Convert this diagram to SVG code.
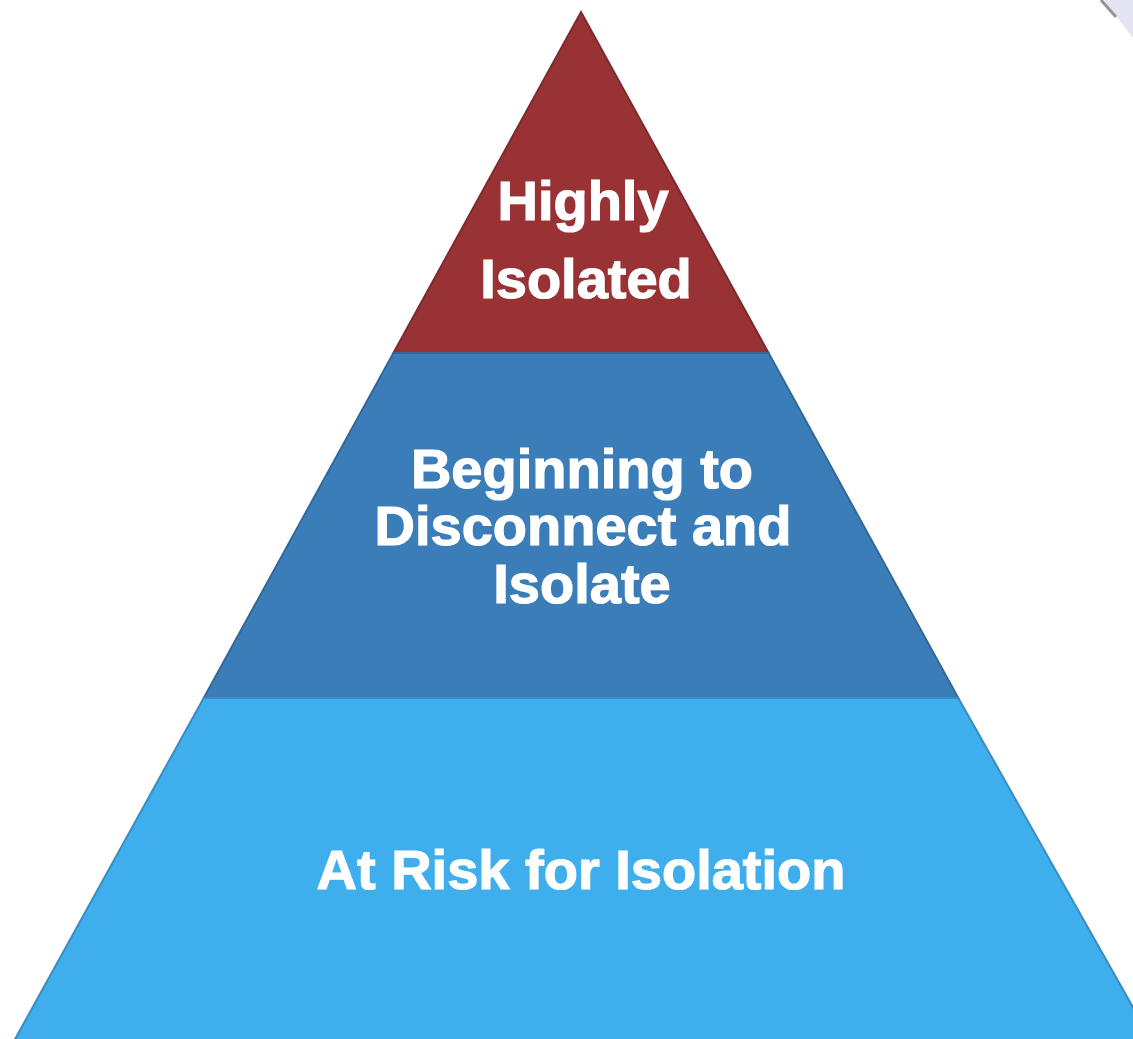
<svg xmlns="http://www.w3.org/2000/svg" width="1133" height="1039" viewBox="0 0 1133 1039">
  <style>
    .band { stroke-width: 2; stroke-linejoin: miter; }
    .top { fill: #983234; stroke: #7e2b30; }
    .mid { fill: #3a7db9; stroke: #34689a; }
    .base { fill: #3eafec; stroke: #3a8cc4; }
    .label { font-family: "Liberation Sans", Arial, sans-serif; font-weight: bold; font-size: 56px; fill: #ffffff; stroke: #ffffff; stroke-width: 1.2; text-anchor: middle; }
  </style>

  <rect x="0" y="0" width="1133" height="1039" fill="#ffffff"/>

  <!-- page curl in the corner -->
  <polygon points="1104,0 1133,0 1133,38" fill="#e4e4f4"/>
  <line x1="1101" y1="0" x2="1116" y2="17" stroke="#8f958f" stroke-width="3"/>

  <!-- pyramid tiers, top to bottom -->
  <g id="tier-highly-isolated">
    <polygon class="band top" points="581,12 768.6,353 393.4,353"/>
    <text class="label" x="583" y="220">Highly</text>
    <text class="label" x="586" y="298">Isolated</text>
  </g>

  <g id="tier-beginning-to-disconnect">
    <polygon class="band mid" points="393.4,353 768.6,353 958.3,698 203.7,698"/>
    <text class="label" x="582" y="488">Beginning to</text>
    <text class="label" x="583" y="545">Disconnect and</text>
    <text class="label" x="582" y="603">Isolate</text>
  </g>

  <g id="tier-at-risk">
    <polygon class="band base" points="203.7,698 958.3,698 1152,1041 14,1041"/>
    <text class="label" x="581" y="889">At Risk for Isolation</text>
  </g>
</svg>
